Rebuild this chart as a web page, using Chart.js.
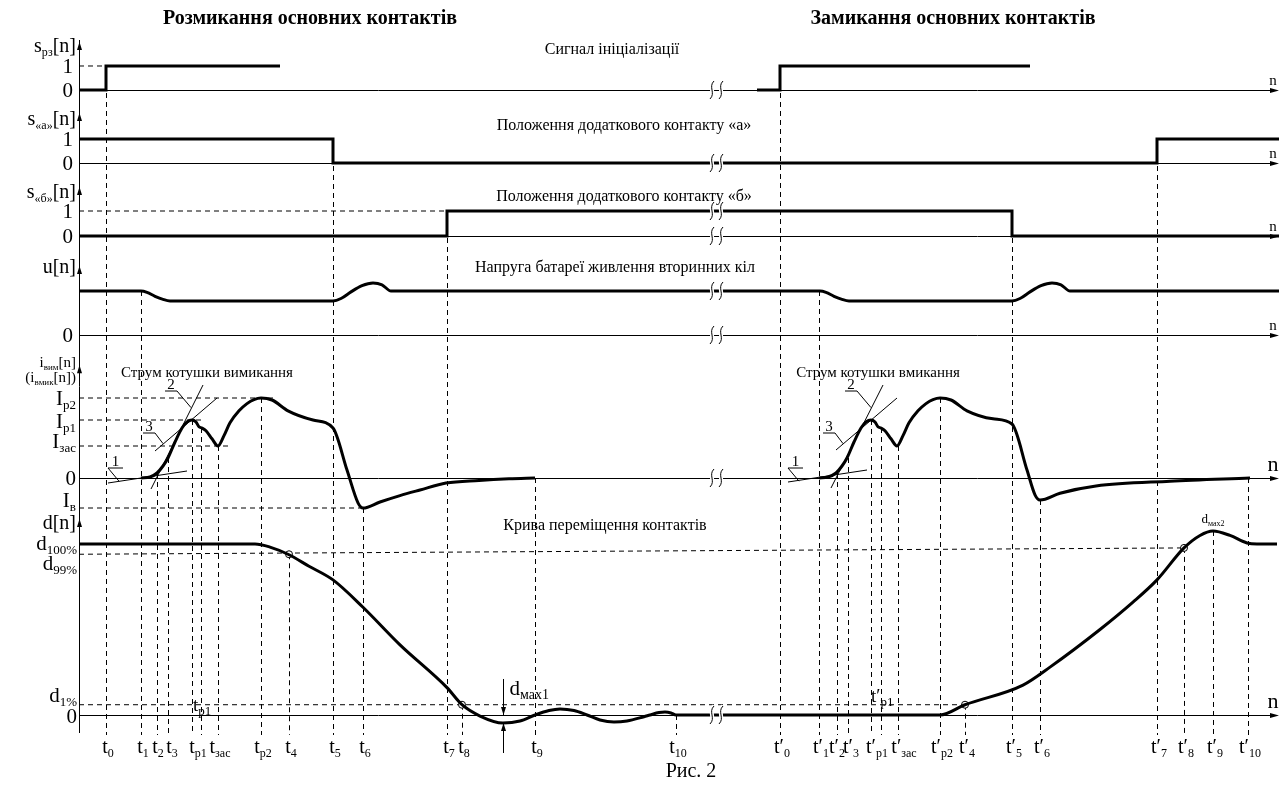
<!DOCTYPE html>
<html>
<head>
<meta charset="utf-8">
<script src="https://cdn.jsdelivr.net/npm/chart.js@4.4.1/dist/chart.umd.min.js"></script>
<style>
  html, body { margin: 0; padding: 0; background: #fff; }
</style>
</head>
<body>
<canvas id="fig" width="1287" height="787"></canvas>
<script>
const FONT = '"Liberation Serif", "Times New Roman", serif';

// time marks, n = sample index
const markN = [27, 62, 78, 89, 113, 122, 139, 182, 210, 254, 284, 368, 383, 456, 597,
               701, 740, 758, 769, 792, 802, 819, 861, 886, 933, 961, 1078, 1105, 1134, 1169];
const markLabels = ['t_{0}', 't_{1}', 't_{2}', 't_{3}', 't_{р1}', '', 't_{зас}', 't_{р2}', 't_{4}', 't_{5}', 't_{6}', 't_{7}', 't_{8}', 't_{9}', 't_{10}',
                    't′_{0}', 't′_{1}', 't′_{2}', 't′_{3}', 't′_{р1}', '', 't′_{зас}', 't′_{р2}', 't′_{4}', 't′_{5}', 't′_{6}', 't′_{7}', 't′_{8}', 't′_{9}', 't′_{10}'];
// where each dashed guide starts: panel and value
const markPanel = ['yInit', 'yU', 'yI', 'yI', 'yI', 'yI', 'yI', 'yI', 'yD', 'yA', 'yI', 'yB', 'yD', 'yI', 'yD',
                   'yInit', 'yU', 'yI', 'yI', 'yI', 'yI', 'yI', 'yI', 'yD', 'yB', 'yI', 'yA', 'yD', 'yD', 'yI'];
const markFrom = [1, 1, 0.0625, 0.25, 0.725, 0.625, 0.40, 1.0, 94, 1, -0.375, 1, 6, 0, 0,
                  1, 1, 0.0625, 0.25, 0.725, 0.625, 0.40, 1.0, 6, 1, -0.275, 1, 97.7, 107.6, 0];

// signal of initialisation and auxiliary contacts (stepped)
const initN = [0, 27, 201, 201, 678, 701, 951];
const initS = [0, 1, 1, null, 0, 1, 1];
const contactAN = [0, 254, 1078, 1200];
const contactAS = [1, 0, 1, 1];
const contactBN = [0, 368, 933, 1200];
const contactBS = [0, 1, 0, 0];

// battery voltage (relative)
const uN = [0, 62, 68, 76, 84, 91, 254, 262, 272, 283, 294, 303, 312,
            741, 747, 755, 763, 770, 933, 941, 951, 962, 973, 982, 991, 1200];
const uV = [1, 1, 0.97, 0.88, 0.81, 0.775, 0.775, 0.83, 0.98, 1.12, 1.18, 1.14, 1.0,
            1, 0.97, 0.88, 0.81, 0.775, 0.775, 0.83, 0.98, 1.12, 1.18, 1.14, 1.0, 1];

// coil current (relative to I_р2)
const iN = [62, 71, 78, 84, 89, 96, 103, 108, 113, 117, 120, 123, 127, 133, 139, 145, 151, 160, 168, 175, 182, 193, 209, 234, 254,
            268, 279, 284, 301, 321, 341, 367, 400, 430, 456, null,
            740, 749, 757, 763, 768, 775, 782, 787, 792, 796, 799, 802, 806, 812, 818, 824, 830, 839, 847, 854, 861, 872, 888, 914, 933,
            948, 956, 961, 981, 1017, 1091, 1171];
const iV = [0, 0.0125, 0.0625, 0.15, 0.25, 0.45, 0.625, 0.70, 0.725, 0.70, 0.64, 0.625, 0.59, 0.49, 0.40, 0.53, 0.69, 0.84, 0.93, 0.98, 1.0, 0.975, 0.84, 0.725, 0.625,
            0.10, -0.31, -0.375, -0.30, -0.22, -0.15, -0.0625, -0.03, -0.01, 0, null,
            0, 0.0125, 0.0625, 0.15, 0.25, 0.45, 0.625, 0.70, 0.725, 0.70, 0.64, 0.625, 0.59, 0.49, 0.40, 0.53, 0.69, 0.84, 0.93, 0.98, 1.0, 0.975, 0.84, 0.74, 0.675,
            0.10, -0.21, -0.275, -0.19, -0.10, -0.04, 0];
const iLevels = [1.0, 0.725, 0.40, 0, -0.375];
const iLevelLabels = ['I_{р2}', 'I_{р1}', 'I_{зас}', '0', 'I_{в}'];

// tangents 1, 2, 3 on both current curves
const tangentN = [[29, 108], [72, 124], [76, 138], [709, 788], [752, 804], [757, 818]];
const tangentI = [[-0.0625, 0.0875], [-0.1375, 1.1625], [0.3375, 1.0], [-0.05, 0.1], [-0.125, 1.1625], [0.35, 1.0]];

// contact travel, %
const dN = [0, 176, 191, 209, 230, 254, 284, 321, 368, 383, 401, 424, 441, 456, 470, 481, 495, 508, 521, 535, 548, 565, 571, 580, 586, 592, 597,
            861, 886, 944, 971, 1021, 1054, 1078, 1105, 1121, 1134, 1151, 1168, 1178, 1198];
const dV = [100, 100, 98.2, 94, 87, 79, 63, 41, 16, 6, -0.6, -4.7, -3.5, 0, 2.6, 3.5, 2.6, 0, -2.9, -4.1, -3.5, -1.0, 0, 1.4, 1.75, 1.2, 0,
            0, 6, 17.5, 28, 50, 66, 79, 97.7, 105, 107.6, 105, 100.6, 100, 100];
const dLevels = [100, 94, 6, 0];
const dLevelLabels = ['d_{100%}', 'd_{99%}', 'd_{1%}', '0'];
const dMarkN = [210, 383, 886, 1105];
const dMarkV = [94, 6, 6, 97.7];

const pts = (xs, ys) => xs.map((x, k) => ({ x: x === null ? NaN : x, y: ys[k] }));

const thick = { borderColor: '#000', borderWidth: 3, pointRadius: 0, fill: false, borderJoinStyle: 'miter' };
const datasets = [
  { ...thick, data: pts(initN, initS), yAxisID: 'yInit', stepped: 'before' },
  { ...thick, data: pts(contactAN, contactAS), yAxisID: 'yA', stepped: 'before' },
  { ...thick, data: pts(contactBN, contactBS), yAxisID: 'yB', stepped: 'before' },
  { ...thick, data: pts(uN, uV), yAxisID: 'yU', cubicInterpolationMode: 'monotone', borderJoinStyle: 'round' },
  { ...thick, data: pts(iN, iV), yAxisID: 'yI', cubicInterpolationMode: 'monotone', borderJoinStyle: 'round' },
  { ...thick, data: pts(dN, dV), yAxisID: 'yD', cubicInterpolationMode: 'monotone', borderJoinStyle: 'round' },
  { data: pts(dMarkN, dMarkV), yAxisID: 'yD', showLine: false, pointRadius: 3.5, pointBorderWidth: 1,
    pointBackgroundColor: '#fff', pointBorderColor: '#000' }
];
tangentN.forEach((ns, k) => {
  datasets.push({ data: pts(ns, tangentI[k]), yAxisID: 'yI', borderColor: '#000', borderWidth: 1, pointRadius: 0 });
});

function parts(str) {
  const out = [];
  const re = /_\{([^}]*)\}/g;
  let last = 0, m;
  while ((m = re.exec(str))) {
    if (m.index > last) out.push([str.slice(last, m.index), false]);
    out.push([m[1], true]);
    last = re.lastIndex;
  }
  if (last < str.length) out.push([str.slice(last), false]);
  return out;
}

function rich(ctx, str, x, y, size, align, subSize) {
  const segs = parts(str);
  const sub = subSize || Math.round(size * 0.62);
  let w = 0;
  segs.forEach(([t, s]) => { ctx.font = `${s ? sub : size}px ${FONT}`; w += ctx.measureText(t).width; });
  let cx = align === 'right' ? x - w : align === 'center' ? x - w / 2 : x;
  ctx.textAlign = 'left';
  ctx.textBaseline = 'alphabetic';
  segs.forEach(([t, s]) => {
    ctx.font = `${s ? sub : size}px ${FONT}`;
    ctx.fillText(t, cx, s ? y + size * 0.2 : y);
    cx += ctx.measureText(t).width;
  });
}

function seg(ctx, x1, y1, x2, y2) {
  ctx.beginPath(); ctx.moveTo(x1, y1); ctx.lineTo(x2, y2); ctx.stroke();
}

function arrowHead(ctx, x, y, dir) {
  ctx.beginPath();
  if (dir === 'up') { ctx.moveTo(x, y); ctx.lineTo(x - 2.5, y + 8); ctx.lineTo(x + 2.5, y + 8); }
  else if (dir === 'down') { ctx.moveTo(x, y); ctx.lineTo(x - 2.5, y - 8); ctx.lineTo(x + 2.5, y - 8); }
  else { ctx.moveTo(x, y); ctx.lineTo(x - 9, y - 2.5); ctx.lineTo(x - 9, y + 2.5); }
  ctx.closePath(); ctx.fill();
}

const panelAxes = ['yInit', 'yA', 'yB', 'yU', 'yI', 'yD'];
const panelNames = [['s_{рз}[n]'], ['s_{«а»}[n]'], ['s_{«б»}[n]'], ['u[n]'], ['i_{вим}[n]', '(i_{вмик}[n])'], ['d[n]']];
const panelNameAt = [1.58, 1.58, 1.52, 1.41, 1.39, 108.8];
const panelArrowAt = [2.0, 2.08, 1.96, 1.57, 1.41, 114.6];
// small shifts of crowded time labels
const labelShift = { 2: -1, 3: 2, 4: 4, 17: -2, 18: 1, 19: 4, 21: 4 };

const figure = {
  id: 'figure',
  beforeDatasetsDraw(chart) {
    const ctx = chart.ctx, sx = chart.scales.x, area = chart.chartArea, S = chart.scales;
    const X = n => sx.getPixelForValue(n);
    ctx.save();
    ctx.strokeStyle = '#000'; ctx.fillStyle = '#000'; ctx.lineWidth = 1;
    // dashed guides
    ctx.setLineDash([5, 4]);
    markN.forEach((n, k) => {
      const x = Math.round(X(n)) + 0.5;
      seg(ctx, x, S[markPanel[k]].getPixelForValue(markFrom[k]), x, area.bottom + 2);
    });
    const hg = [
      ['yInit', 1, 0, 27], ['yB', 1, 0, 368],
      ['yI', iLevels[0], 0, 196], ['yI', iLevels[1], 0, 126], ['yI', iLevels[2], 0, 151], ['yI', iLevels[4], 0, 284],
      ['yD', dLevels[1], 0, 1105, 97.7], ['yD', dLevels[2], 0, 886]
    ];
    hg.forEach(([id, v, n1, n2, v2]) => {
      seg(ctx, X(n1), S[id].getPixelForValue(v), X(n2), S[id].getPixelForValue(v2 === undefined ? v : v2));
    });
    ctx.setLineDash([]);
    // vertical axis
    seg(ctx, area.left + 0.5, area.top, area.left + 0.5, area.bottom);
    // horizontal axes
    panelAxes.forEach(id => {
      const y = Math.round(S[id].getPixelForValue(0)) + 0.5;
      seg(ctx, area.left, y, area.right - 2, y);
    });
    ctx.restore();
  },
  afterDatasetsDraw(chart) {
    const ctx = chart.ctx, sx = chart.scales.x, area = chart.chartArea, S = chart.scales;
    const X = n => sx.getPixelForValue(n);
    ctx.save();
    ctx.strokeStyle = '#000'; ctx.fillStyle = '#000'; ctx.lineWidth = 1;

    // arrows and names of each panel
    panelAxes.forEach((id, k) => {
      arrowHead(ctx, area.left + 0.5, S[id].getPixelForValue(panelArrowAt[k]), 'up');
      const y0 = Math.round(S[id].getPixelForValue(0)) + 0.5;
      arrowHead(ctx, area.right, y0, 'right');
      const big = id === 'yI' || id === 'yD';
      ctx.font = `${big ? 22 : 15}px ${FONT}`;
      ctx.textAlign = 'center'; ctx.textBaseline = 'alphabetic';
      ctx.fillText('n', area.right - 6, y0 - (big ? 8 : 6));
      const yn = S[id].getPixelForValue(panelNameAt[k]);
      panelNames[k].forEach((t, j) => rich(ctx, t, area.left - 3, yn + j * 15, panelNames[k].length > 1 ? 15 : 20, 'right', panelNames[k].length > 1 ? 9 : 12));
    });
    ['yInit', 'yA', 'yB'].forEach(id => {
      ctx.font = `21px ${FONT}`; ctx.textAlign = 'right'; ctx.textBaseline = 'middle';
      ctx.fillText('1', area.left - 6, S[id].getPixelForValue(1) + 1);
      ctx.fillText('0', area.left - 6, S[id].getPixelForValue(0) + 1);
    });
    ctx.font = `21px ${FONT}`; ctx.textAlign = 'right'; ctx.textBaseline = 'middle';
    ctx.fillText('0', area.left - 6, S.yU.getPixelForValue(0) + 1);
    const iOff = [7, 8, 2, 7, -1];
    iLevels.forEach((v, k) => rich(ctx, iLevelLabels[k], area.left - 3, S.yI.getPixelForValue(v) + iOff[k], 21, 'right', 13));
    const dOff = [6, 16, -3, 8];
    dLevels.forEach((v, k) => rich(ctx, dLevelLabels[k], area.left - 2, S.yD.getPixelForValue(v) + dOff[k], 21, 'right', 13));

    // time labels
    markN.forEach((n, k) => {
      if (markLabels[k]) rich(ctx, markLabels[k], X(n) + 2 + (labelShift[k] || 0), area.bottom + 20, 20, 'center', 12);
    });

    // tangent tags
    const tags = [['1', 29, 44, 0.125, 29, 40, -0.04], ['2', 86, 98, 1.0875, 98, 112, 0.88], ['3', 64, 76, 0.5625, 76, 84, 0.43]];
    [0, 680].forEach(off => {
      tags.forEach(([t, n1, n2, v, la, lb, lv]) => {
        const y = S.yI.getPixelForValue(v);
        seg(ctx, X(n1 + off), y, X(n2 + off), y);
        seg(ctx, X(la + off), y, X(lb + off), S.yI.getPixelForValue(lv));
        ctx.font = `15px ${FONT}`; ctx.textAlign = 'center'; ctx.textBaseline = 'alphabetic';
        ctx.fillText(t, X((n1 + n2) / 2 + off), y - 2);
      });
    });

    // d_max1 arrows
    const xm = Math.round(X(424)) + 0.5;
    const yz = S.yD.getPixelForValue(0), ymin = S.yD.getPixelForValue(-4.7);
    seg(ctx, xm, yz - 36, xm, yz);
    arrowHead(ctx, xm, yz, 'down');
    seg(ctx, xm, ymin, xm, area.bottom + 20);
    arrowHead(ctx, xm, ymin, 'up');
    rich(ctx, 'd_{мах1}', xm + 6, yz - 20, 21, 'left', 14);
    rich(ctx, 'd_{мах2}', X(1134), S.yD.getPixelForValue(107.6) - 8, 13, 'center', 8);
    rich(ctx, 't_{р1}', X(114), S.yD.getPixelForValue(6) + 6, 19, 'left', 13);
    rich(ctx, 't′_{р1}', X(792), S.yD.getPixelForValue(6) - 3, 19, 'left', 13);

    // break marks
    const breaks = [['yInit', 0], ['yA', 0], ['yB', 1], ['yB', 0], ['yU', 1], ['yU', 0], ['yI', 0], ['yD', 0]];
    breaks.forEach(([id, v]) => {
      const y = S[id].getPixelForValue(v);
      [633, 642].forEach(n => {
        const x = X(n);
        ctx.beginPath();
        ctx.moveTo(x + 2, y - 9);
        ctx.bezierCurveTo(x - 4, y - 3, x + 4, y + 3, x - 2, y + 9);
        ctx.strokeStyle = '#fff'; ctx.lineWidth = 4; ctx.stroke();
        ctx.strokeStyle = '#000'; ctx.lineWidth = 1; ctx.stroke();
      });
    });

    // captions
    ctx.textAlign = 'center'; ctx.textBaseline = 'alphabetic';
    ctx.font = `bold 20px ${FONT}`;
    ctx.fillText('Розмикання основних контактів', 310, 24);
    ctx.fillText('Замикання основних контактів', 953, 24);
    ctx.font = `16px ${FONT}`;
    ctx.fillText('Сигнал ініціалізації', 612, 54);
    ctx.fillText('Положення додаткового контакту «а»', 624, 130);
    ctx.fillText('Положення додаткового контакту «б»', 624, 201);
    ctx.fillText('Напруга батареї живлення вторинних кіл', 615, 272);
    ctx.fillText('Крива переміщення контактів', 605, 530);
    ctx.font = `15px ${FONT}`;
    ctx.fillText('Струм котушки вимикання', 207, 377);
    ctx.fillText('Струм котушки вмикання', 878, 377);
    ctx.font = `20px ${FONT}`;
    ctx.fillText('Рис. 2', 691, 777);
    ctx.restore();
  }
};

const hidden = { type: 'linear', position: 'left', display: false, stack: 'fig' };
new Chart(document.getElementById('fig'), {
  type: 'line',
  data: { datasets },
  options: {
    responsive: false,
    animation: false,
    layout: { padding: { left: 79, right: 8, top: 40, bottom: 54 } },
    plugins: { legend: { display: false }, tooltip: { enabled: false } },
    scales: {
      x: { type: 'linear', min: 0, max: 1200, display: false },
      yInit: { ...hidden, weight: 6, stackWeight: 60, min: -0.4167, max: 2.0833 },
      yA: { ...hidden, weight: 5, stackWeight: 74, min: -0.4583, max: 2.625 },
      yB: { ...hidden, weight: 4, stackWeight: 76, min: -0.56, max: 2.48 },
      yU: { ...hidden, weight: 3, stackWeight: 100, min: -0.3409, max: 1.9318 },
      yI: { ...hidden, weight: 2, stackWeight: 162, min: -0.425, max: 1.6 },
      yD: { ...hidden, weight: 1, stackWeight: 221, min: -10.53, max: 118.71 }
    }
  },
  plugins: [figure]
});
</script>
</body>
</html>
